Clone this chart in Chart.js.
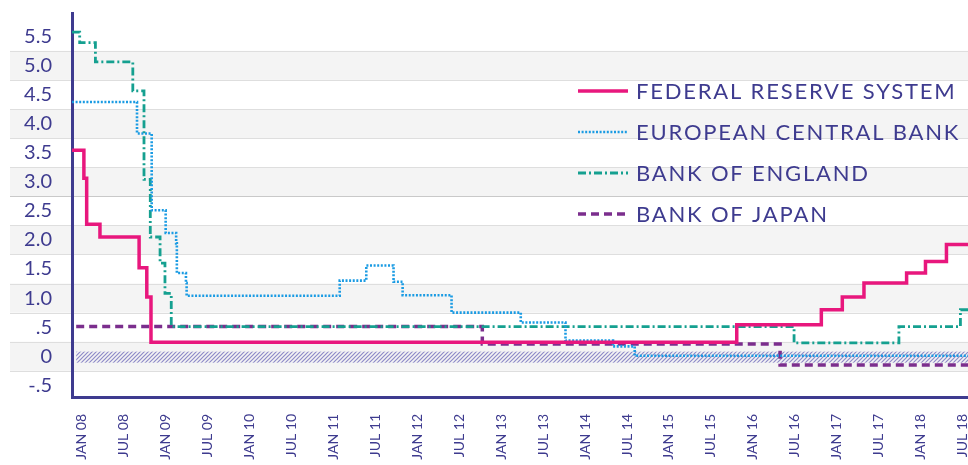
<!DOCTYPE html>
<html>
<head>
<meta charset="utf-8">
<script src="https://cdn.jsdelivr.net/npm/chart.js@4.4.0/dist/chart.umd.min.js"></script>
<style>
  html, body { margin: 0; padding: 0; background: #fff; overflow: hidden; }
  #wrap { width: 980px; height: 465px; }
</style>
</head>
<body>
<div id="wrap"><canvas id="rates" width="980" height="465"></canvas></div>
<script>
// x values are months counted from Jan 2008 (0 = JAN 08)
const tickMonths = [0, 6, 12, 18, 24, 30, 36, 42, 48, 54, 60, 66, 72, 78, 84, 90, 96, 102, 108, 114, 120, 126];
const tickLabels = ['JAN 08', 'JUL 08', 'JAN 09', 'JUL 09', 'JAN 10', 'JUL 10', 'JAN 11', 'JUL 11',
  'JAN 12', 'JUL 12', 'JAN 13', 'JUL 13', 'JAN 14', 'JUL 14', 'JAN 15', 'JUL 15', 'JAN 16', 'JUL 16',
  'JAN 17', 'JUL 17', 'JAN 18', 'JUL 18'];
const yTicks = [-0.5, 0, 0.5, 1, 1.5, 2, 2.5, 3, 3.5, 4, 4.5, 5, 5.5];
const yTickLabels = ['-.5', '0', '.5', '1.0', '1.5', '2.0', '2.5', '3.0', '3.5', '4.0', '4.5', '5.0', '5.5'];

const seriesNames = ['FEDERAL RESERVE SYSTEM', 'EUROPEAN CENTRAL BANK', 'BANK OF ENGLAND', 'BANK OF JAPAN'];

// each point: from that month on, the rate is the value (step lines)
const fedMonths = [-1.4, 0.3, 0.7, 2.6, 8.2, 9.3, 9.9, 93.7, 105.8, 108.8, 111.9, 118.0, 120.7, 123.7, 128.5];
const fedRates  = [3.54, 3.06, 2.27, 2.05, 1.52, 1.02, 0.24, 0.54, 0.80, 1.02, 1.26, 1.43, 1.63, 1.92, 1.92];

const ecbMonths = [-1.4, 7.9, 10.0, 12.0, 13.5, 13.6, 14.9, 15.0, 36.9, 40.7, 44.6, 45.9, 52.9, 62.8, 69.2, 76.0, 79.1, 128.5];
const ecbRates  = [4.37, 3.83, 2.51, 2.12, 1.94, 1.43, 1.26, 1.04, 1.30, 1.56, 1.28, 1.05, 0.75, 0.58, 0.27, 0.17, 0.01, 0.01];

const boeMonths = [-1.4, -0.3, 1.95, 7.3, 8.9, 9.8, 11.2, 11.9, 12.8, 101.9, 116.9, 125.7, 128.5];
const boeRates  = [5.57, 5.39, 5.06, 4.56, 3.04, 2.05, 1.60, 1.08, 0.51, 0.23, 0.51, 0.80, 0.80];

const bojMonths = [-0.8, 57.3, 99.9, 128.5];
const bojRates  = [0.51, 0.21, -0.15, -0.15];

const ink = '#3e3b8f';
const toPoints = (xs, ys) => xs.map((m, i) => ({ x: m, y: ys[i] }));

// grey bands behind the plot, one per whole number
const bandsPlugin = {
  id: 'bands',
  beforeDraw(chart) {
    const { ctx, scales: { y } } = chart;
    ctx.save();
    for (let k = 0; k <= 5; k++) {
      const top = y.getPixelForValue(k + 0.25);
      const bot = y.getPixelForValue(k - 0.25);
      ctx.fillStyle = '#f4f4f4';
      ctx.fillRect(10, top, chart.width - 10, bot - top);
    }
    ctx.lineWidth = 1;
    for (let k = -0.25; k <= 5.3; k += 0.5) {
      const py = Math.round(y.getPixelForValue(k)) + 0.5;
      ctx.strokeStyle = Math.abs(k - 2.75) < 0.01 ? '#c9c9c9' : '#dedede';
      ctx.beginPath();
      ctx.moveTo(10, py);
      ctx.lineTo(chart.width, py);
      ctx.stroke();
    }
    ctx.restore();
  },
  beforeDatasetsDraw(chart) {
    // hatched strip along zero
    const { ctx, scales: { x, y } } = chart;
    const pc = document.createElement('canvas');
    pc.width = 4; pc.height = 4;
    const p = pc.getContext('2d');
    p.strokeStyle = '#8e8ac8';
    p.lineWidth = 1.2;
    p.beginPath();
    p.moveTo(0, 4); p.lineTo(4, 0);
    p.moveTo(-1, 1); p.lineTo(1, -1);
    p.moveTo(3, 5); p.lineTo(5, 3);
    p.stroke();
    ctx.save();
    ctx.fillStyle = ctx.createPattern(pc, 'repeat');
    const top = y.getPixelForValue(0.08);
    const bot = y.getPixelForValue(-0.11);
    const left = x.getPixelForValue(-0.8);
    ctx.fillRect(left, top, chart.width - left, bot - top);
    ctx.restore();
  }
};

// legend drawn inside the plot, right side
const legendPlugin = {
  id: 'sideLegend',
  afterDraw(chart) {
    const { ctx } = chart;
    const rows = [91, 132, 173, 214];
    ctx.save();
    chart.data.datasets.forEach((ds, i) => {
      const cy = rows[i];
      ctx.strokeStyle = ds.borderColor;
      ctx.lineWidth = ds.borderWidth;
      ctx.setLineDash(ds.borderDash || []);
      ctx.beginPath();
      ctx.moveTo(578, cy);
      ctx.lineTo(628, cy);
      ctx.stroke();
      ctx.setLineDash([]);
      ctx.fillStyle = ink;
      ctx.font = '22px Lato, "Open Sans", sans-serif';
      ctx.letterSpacing = '1.8px';
      ctx.textBaseline = 'middle';
      ctx.textAlign = 'left';
      ctx.fillText(ds.label, 636, cy + 1);
    });
    ctx.restore();
  }
};

new Chart(document.getElementById('rates'), {
  type: 'line',
  data: {
    datasets: [
      {
        label: seriesNames[0],
        data: toPoints(fedMonths, fedRates),
        borderColor: '#e8177d',
        borderWidth: 3.5
      },
      {
        label: seriesNames[1],
        data: toPoints(ecbMonths, ecbRates),
        borderColor: '#1a9be3',
        borderWidth: 2.6,
        borderDash: [2, 1.6]
      },
      {
        label: seriesNames[2],
        data: toPoints(boeMonths, boeRates),
        borderColor: '#15a090',
        borderWidth: 2.8,
        borderDash: [8, 3, 2, 3]
      },
      {
        label: seriesNames[3],
        data: toPoints(bojMonths, bojRates),
        borderColor: '#7b2e8d',
        borderWidth: 3.5,
        borderDash: [8, 5]
      }
    ]
  },
  options: {
    responsive: false,
    animation: false,
    devicePixelRatio: 1,
    layout: { padding: { top: 13, left: 0, right: 0, bottom: 0 } },
    elements: {
      line: { stepped: true, fill: false, borderCapStyle: 'butt' },
      point: { radius: 0, hoverRadius: 0 }
    },
    plugins: {
      legend: { display: false },
      tooltip: { enabled: false }
    },
    scales: {
      x: {
        type: 'linear',
        min: -1.4,
        max: 128.5,
        grid: { display: false },
        border: { color: ink, width: 3 },
        afterBuildTicks: (scale) => { scale.ticks = tickMonths.map(v => ({ value: v })); },
        afterFit: (scale) => {
          scale.height = 68;
          scale.paddingLeft = 0;
          scale.paddingRight = 0;
        },
        ticks: {
          autoSkip: false,
          minRotation: 90,
          maxRotation: 90,
          padding: 9,
          color: ink,
          font: { family: 'Lato, "Open Sans", sans-serif', size: 14 },
          callback: (value) => tickLabels[tickMonths.indexOf(value)]
        }
      },
      y: {
        type: 'linear',
        min: -0.7,
        max: 5.9,
        grid: { display: false },
        border: { color: ink, width: 3 },
        afterBuildTicks: (scale) => { scale.ticks = yTicks.map(v => ({ value: v })); },
        afterFit: (scale) => {
          scale.width = 72;
          scale.paddingTop = 0;
          scale.paddingBottom = 0;
        },
        ticks: {
          padding: 12,
          color: ink,
          font: { family: 'Lato, "Open Sans", sans-serif', size: 20 },
          callback: (value) => yTickLabels[yTicks.indexOf(value)]
        }
      }
    }
  },
  plugins: [bandsPlugin, legendPlugin]
});
</script>
</body>
</html>
